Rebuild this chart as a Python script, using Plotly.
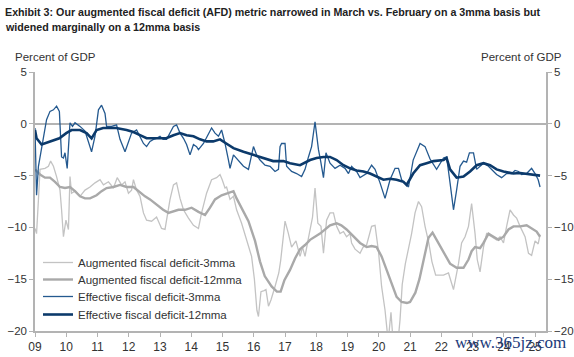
import plotly.graph_objects as go

# ---------------- data ----------------
years = list(range(2009, 2026))
year_labels = ["09", "10", "11", "12", "13", "14", "15", "16", "17", "18", "19", "20", "21", "22", "23", "24", "25"]

aug3_x = [2009.0, 2009.05, 2009.11, 2009.16, 2009.32, 2009.43, 2009.5, 2009.59, 2009.69, 2009.8,
          2009.85, 2009.91, 2009.99, 2010.07, 2010.12, 2010.17, 2010.28, 2010.44, 2010.6, 2010.76,
          2010.92, 2011.08, 2011.19, 2011.35, 2011.51, 2011.63, 2011.77, 2011.88, 2011.99, 2012.09,
          2012.15, 2012.25, 2012.36, 2012.47, 2012.57, 2012.73, 2012.89, 2013.05, 2013.16, 2013.32,
          2013.43, 2013.53, 2013.64, 2013.75, 2013.91, 2014.07, 2014.23, 2014.33, 2014.49, 2014.65,
          2014.81, 2014.92, 2014.99, 2015.08, 2015.13, 2015.24, 2015.35, 2015.45, 2015.61, 2015.77,
          2015.93, 2016.02, 2016.1, 2016.15, 2016.23, 2016.33, 2016.39, 2016.47, 2016.55, 2016.68,
          2016.8, 2016.86, 2016.95, 2017.0, 2017.1, 2017.21, 2017.35, 2017.48, 2017.56, 2017.64,
          2017.75, 2017.88, 2017.96, 2018.05, 2018.15, 2018.23, 2018.33, 2018.44, 2018.55, 2018.65,
          2018.76, 2018.87, 2018.97, 2019.08, 2019.13, 2019.24, 2019.4, 2019.5, 2019.61, 2019.77,
          2019.88, 2019.99, 2020.09, 2020.2, 2020.3, 2020.39, 2020.47, 2020.6, 2020.68, 2020.75,
          2020.85, 2021.05, 2021.16, 2021.27, 2021.37, 2021.48, 2021.6, 2021.7, 2021.82, 2021.95,
          2022.07, 2022.23, 2022.39, 2022.55, 2022.65, 2022.76, 2022.87, 2022.97, 2023.08, 2023.15,
          2023.24, 2023.35, 2023.45, 2023.61, 2023.77, 2023.88, 2023.99, 2024.09, 2024.2, 2024.31,
          2024.41, 2024.52, 2024.68, 2024.79, 2024.89, 2025.0, 2025.1, 2025.16]
aug3_y = [-10.1, -10.6, -7.3, -4.4, -4.3, -4.1, -3.6, -4.1, -5.1, -6.4,
          -8.3, -10.9, -9.3, -10.2, -5.1, -6.7, -6.5, -7.0, -6.4, -6.1,
          -5.7, -5.4, -5.9, -5.6, -6.2, -5.2, -5.9, -5.6, -6.7, -6.4,
          -5.4, -6.4, -7.0, -8.6, -9.3, -9.4, -9.0, -10.1, -10.2, -7.3,
          -5.9, -5.7, -7.2, -8.3, -9.1, -9.8, -10.1, -8.6, -6.7, -5.4,
          -5.2, -4.9, -5.4, -6.2, -6.1, -7.3, -7.0, -8.3, -9.6, -11.2,
          -12.8, -15.0, -18.0, -18.6, -16.2, -16.1, -16.0, -17.6, -17.0, -15.7,
          -14.4, -13.2, -10.5, -9.4, -10.5, -11.9, -11.3, -12.8, -11.9, -12.8,
          -11.0, -9.0, -6.2, -9.6, -9.9, -12.5, -9.3, -8.6, -8.6, -9.9,
          -10.6, -10.4, -10.9, -10.6, -11.5, -12.1, -12.5, -11.9, -11.7, -9.9,
          -9.8, -12.3, -15.7, -18.0, -21.0, -18.2, -21.5, -21.5, -18.9, -15.5,
          -13.5, -10.6, -8.6, -7.5, -8.0, -9.9, -11.5, -13.3, -14.6, -14.6,
          -14.6, -14.4, -16.0, -13.5, -11.5, -10.9, -9.9, -7.7, -10.6, -13.1,
          -14.3, -11.9, -10.6, -10.9, -11.2, -10.9, -11.5, -9.9, -8.3, -8.8,
          -9.1, -9.9, -10.9, -12.5, -12.7, -11.3, -11.6, -10.7]

aug12_x = [2009.0, 2009.16, 2009.32, 2009.48, 2009.64, 2009.8, 2009.96, 2010.12, 2010.28, 2010.44,
           2010.6, 2010.76, 2010.97, 2011.13, 2011.29, 2011.51, 2011.72, 2011.93, 2012.15, 2012.31,
           2012.52, 2012.68, 2012.89, 2013.1, 2013.27, 2013.59, 2013.8, 2014.01, 2014.23, 2014.44,
           2014.6, 2014.76, 2014.97, 2015.19, 2015.35, 2015.45, 2015.61, 2015.83, 2016.04, 2016.2,
           2016.35, 2016.57, 2016.74, 2016.86, 2016.98, 2017.16, 2017.32, 2017.48, 2017.64, 2017.8,
           2018.12, 2018.44, 2018.65, 2018.8, 2018.97, 2019.2, 2019.4, 2019.61, 2019.77, 2019.93,
           2020.09, 2020.25, 2020.41, 2020.57, 2020.73, 2020.9, 2021.0, 2021.17, 2021.3, 2021.43,
           2021.59, 2021.72, 2021.85, 2022.07, 2022.28, 2022.49, 2022.71, 2022.87, 2022.97, 2023.08,
           2023.24, 2023.35, 2023.51, 2023.67, 2023.83, 2023.99, 2024.15, 2024.31, 2024.52, 2024.73,
           2024.89, 2025.05, 2025.16]
aug12_y = [-4.4, -4.9, -5.2, -5.2, -5.6, -6.1, -6.2, -6.1, -6.5, -7.0,
           -7.2, -7.2, -6.9, -6.5, -6.2, -6.1, -5.9, -6.1, -6.1, -6.5,
           -7.0, -7.3, -7.8, -8.3, -8.6, -8.3, -8.3, -8.1, -8.5, -8.8,
           -8.1, -7.3, -6.9, -6.7, -6.5, -7.2, -8.1, -9.4, -11.3, -13.3,
           -14.7, -15.7, -16.2, -16.2, -15.1, -14.1, -13.0, -12.1, -11.7, -11.2,
           -10.6, -9.8, -9.6, -9.8, -10.2, -10.9, -11.5, -11.9, -11.8, -11.9,
           -12.8, -14.1, -15.4, -16.7, -17.2, -17.3, -17.2, -16.3, -15.0, -13.2,
           -11.0, -10.5, -11.2, -12.5, -13.5, -13.9, -13.9, -13.1, -12.3, -11.9,
           -12.0, -11.5, -10.6, -10.9, -11.2, -10.9, -10.2, -9.9, -9.9, -9.8,
           -10.1, -10.4, -10.9]

eff3_x = [2009.0, 2009.05, 2009.11, 2009.21, 2009.37, 2009.48, 2009.59, 2009.69, 2009.78, 2009.85,
          2009.91, 2009.96, 2010.03, 2010.12, 2010.2, 2010.28, 2010.44, 2010.6, 2010.76, 2010.81,
          2010.92, 2011.03, 2011.13, 2011.24, 2011.29, 2011.45, 2011.61, 2011.72, 2011.88, 2011.99,
          2012.09, 2012.25, 2012.36, 2012.47, 2012.57, 2012.68, 2012.79, 2012.89, 2013.0, 2013.1,
          2013.21, 2013.32, 2013.43, 2013.53, 2013.64, 2013.75, 2013.85, 2013.96, 2014.07, 2014.17,
          2014.23, 2014.39, 2014.55, 2014.65, 2014.76, 2014.87, 2014.97, 2015.08, 2015.19, 2015.24,
          2015.35, 2015.51, 2015.67, 2015.83, 2015.9, 2015.99, 2016.09, 2016.2, 2016.36, 2016.52,
          2016.68, 2016.79, 2016.84, 2016.89, 2017.0, 2017.05, 2017.21, 2017.37, 2017.53, 2017.64,
          2017.75, 2017.85, 2017.96, 2018.07, 2018.14, 2018.23, 2018.31, 2018.44, 2018.6, 2018.76,
          2018.92, 2019.03, 2019.13, 2019.29, 2019.4, 2019.61, 2019.77, 2019.88, 2020.04, 2020.2,
          2020.36, 2020.52, 2020.63, 2020.73, 2020.95, 2021.1, 2021.32, 2021.48, 2021.64, 2021.85,
          2022.07, 2022.17, 2022.28, 2022.39, 2022.49, 2022.6, 2022.71, 2022.81, 2022.9, 2023.03,
          2023.13, 2023.24, 2023.35, 2023.51, 2023.67, 2023.77, 2023.93, 2024.09, 2024.25, 2024.36,
          2024.47, 2024.57, 2024.73, 2024.89, 2025.0, 2025.1, 2025.16]
eff3_y = [-0.4, -6.9, -4.1, -2.2, 0.4, 1.2, 1.35, 1.7, 1.2, -3.2,
          -3.3, -2.8, -4.3, 0.1, -0.25, 0.1, -0.25, -0.7, -2.2, -2.7,
          -1.2, 1.35, 1.8, 1.0, -0.25, -0.25, -0.1, -1.5, -2.7, -1.7,
          -0.9, -0.6, -1.2, -1.9, -2.2, -1.7, -1.5, -1.4, -1.2, -1.5,
          -1.5, -0.9, -0.25, -0.1, -0.9, -1.4, -2.0, -3.0, -2.0, -2.2,
          -2.5, -1.9, -0.9, -0.4, -0.9, -1.2, -0.6, -1.9, -3.5, -4.3,
          -3.0, -3.5, -4.1, -4.4, -3.5, -2.2, -3.0, -3.5, -4.0, -4.1,
          -4.6, -4.4, -2.2, -1.9, -1.9, -4.1, -4.6, -4.8, -5.1, -4.4,
          -3.2, -2.2, 0.2, -2.5, -3.6, -5.2, -2.8, -3.8, -4.3, -4.0,
          -4.3, -4.8, -4.1, -4.6, -5.2, -4.8, -4.0, -4.4, -5.7, -7.2,
          -5.4, -4.3, -4.3, -5.4, -6.1, -3.5, -1.9, -2.2, -3.4, -4.4,
          -3.3, -3.2, -5.7, -8.3, -6.4, -4.1, -3.6, -3.7, -2.8, -2.8,
          -4.4, -4.1, -3.8, -4.1, -4.6, -4.9, -5.2, -4.8, -4.8, -4.5,
          -4.6, -4.9, -4.8, -4.3, -4.8, -5.4, -6.1]

eff12_x = [2009.0, 2009.05, 2009.21, 2009.48, 2009.78, 2010.0, 2010.17, 2010.44, 2010.65, 2010.81,
           2010.97, 2011.18, 2011.6, 2011.93, 2012.15, 2012.36, 2012.57, 2012.9, 2013.2, 2013.43,
           2013.64, 2013.85, 2014.07, 2014.28, 2014.49, 2014.7, 2014.92, 2015.12, 2015.35, 2015.67,
           2015.99, 2016.3, 2016.62, 2016.95, 2017.16, 2017.48, 2017.8, 2018.01, 2018.23, 2018.44,
           2018.65, 2018.87, 2019.08, 2019.29, 2019.51, 2019.72, 2019.93, 2020.15, 2020.36, 2020.57,
           2020.79, 2020.89, 2021.1, 2021.32, 2021.53, 2021.75, 2022.07, 2022.17, 2022.28, 2022.49,
           2022.71, 2022.92, 2023.13, 2023.35, 2023.56, 2023.77, 2023.99, 2024.3, 2024.52, 2024.73,
           2024.94, 2025.16]
eff12_y = [-0.6, -1.4, -2.0, -1.7, -1.4, -0.9, -0.6, -0.6, -0.9, -1.4,
           -0.6, -0.4, -0.4, -0.6, -0.8, -1.1, -1.4, -1.4, -1.4, -1.1,
           -0.9, -1.1, -1.2, -1.5, -1.7, -1.7, -1.5, -1.9, -2.35, -2.7,
           -3.0, -3.3, -3.6, -3.6, -3.8, -4.0, -3.5, -3.3, -3.2, -3.2,
           -3.5, -4.0, -4.3, -4.5, -4.6, -4.8, -5.1, -5.4, -5.3, -5.4,
           -5.6, -5.9, -4.8, -4.0, -3.8, -3.6, -3.5, -3.3, -4.4, -5.2,
           -5.1, -4.6, -4.0, -3.8, -4.0, -4.4, -4.6, -4.8, -4.75, -4.85,
           -4.95, -5.0]

series_names = ["Augmented fiscal deficit-3mma", "Augmented fiscal deficit-12mma",
                "Effective fiscal deficit-3mma", "Effective fiscal deficit-12mma"]

y_ticks = [5, 0, -5, -10, -15, -20]

assert len(aug3_x) == len(aug3_y)
assert len(aug12_x) == len(aug12_y)
assert len(eff3_x) == len(eff3_y)
assert len(eff12_x) == len(eff12_y)

# ---------------- figure ----------------
FONT = "Liberation Sans, Arial, sans-serif"
AXIS_GREY = "#b3b3b3"
TEXT = "#333333"

W, H = 574, 357
L, R, T, B = 35, 28, 72, 26
pw, ph = W - L - R, H - T - B

def px_x(px):
    return (px - L) / pw

def px_y(py):
    return (H - B - py) / ph

fig = go.Figure()
styles = [
    (aug3_x, aug3_y, "#c3c3c3", 1.3),
    (aug12_x, aug12_y, "#a9a9a9", 2.4),
    (eff3_x, eff3_y, "#24598f", 1.3),
    (eff12_x, eff12_y, "#0c3a6b", 2.6),
]
legend_ids = ["legend", "legend2", "legend3", "legend4"]
for (xs, ys, col, w), name, lg in zip(styles, series_names, legend_ids):
    fig.add_trace(go.Scatter(x=xs, y=ys, mode="lines", name=name, legend=lg,
                             line=dict(color=col, width=w)))

# invisible trace to activate the right-hand axis
fig.add_trace(go.Scatter(x=[2009], y=[0], yaxis="y2", mode="lines",
                         showlegend=False, hoverinfo="skip", line=dict(width=0)))

axis_common = dict(
    range=[-20, 5], tickvals=y_ticks, ticks="outside", ticklen=4,
    tickcolor=AXIS_GREY, showline=True, linecolor=AXIS_GREY, linewidth=1.5,
    showgrid=False, automargin=False, tickfont=dict(family=FONT, size=11.5, color=TEXT),
)

legend_centres = [264, 281, 298, 316]
legend_layout = {}
for lg, cy in zip(legend_ids, legend_centres):
    legend_layout[lg] = dict(x=px_x(38), y=px_y(cy - 16), xanchor="left", yanchor="top",
                             bgcolor="rgba(0,0,0,0)", borderwidth=0,
                             font=dict(family=FONT, size=11.5, color=TEXT), itemwidth=30)

fig.update_layout(
    width=W, height=H,
    margin=dict(l=L, r=R, t=T, b=B, pad=0, autoexpand=False),
    paper_bgcolor="white", plot_bgcolor="white",
    showlegend=True,
    xaxis=dict(range=[2009.0, 2025.35], tickvals=years, ticktext=year_labels,
               ticks="outside", ticklen=4, tickcolor=AXIS_GREY,
               showline=True, linecolor=AXIS_GREY, linewidth=1.5,
               showgrid=False, zeroline=False, automargin=False,
               tickfont=dict(family=FONT, size=12, color=TEXT)),
    yaxis=dict(**axis_common, zeroline=True, zerolinecolor=AXIS_GREY, zerolinewidth=1.5,
               side="left"),
    yaxis2=dict(**axis_common, zeroline=False, overlaying="y", side="right"),
    **legend_layout,
)

TITLE_FONT = "Liberation Sans, Arial, sans-serif"
ann = [
    dict(text="Exhibit 3: Our augmented fiscal deficit (AFD) metric narrowed in March vs. February on a 3mma basis but",
         x=px_x(3), y=px_y(12), size=10.7, fam=TITLE_FONT, bold=True, xa="left", col="#222222"),
    dict(text="widened marginally on a 12mma basis",
         x=px_x(3), y=px_y(27), size=10.7, fam=TITLE_FONT, bold=True, xa="left", col="#222222"),
    dict(text="Percent of GDP", x=px_x(13), y=px_y(57), size=11.5, fam=FONT, bold=False, xa="left", col=TEXT),
    dict(text="Percent of GDP", x=px_x(564), y=px_y(57), size=11.5, fam=FONT, bold=False, xa="right", col=TEXT),
    dict(text="www.365jz.com", x=px_x(510), y=px_y(342), size=17,
         fam="Liberation Serif, Times New Roman, serif", bold=False, xa="center", col="#1b3a7a"),
]
for a in ann:
    txt = "<b>%s</b>" % a["text"] if a["bold"] else a["text"]
    fig.add_annotation(text=txt, x=a["x"], y=a["y"], xref="paper", yref="paper",
                       xanchor=a["xa"], yanchor="middle", showarrow=False,
                       font=dict(family=a["fam"], size=a["size"], color=a["col"]))

fig.write_html("out.html", config={"displayModeBar": False},
               post_script="document.body.style.margin='0';document.body.style.overflow='hidden';")
